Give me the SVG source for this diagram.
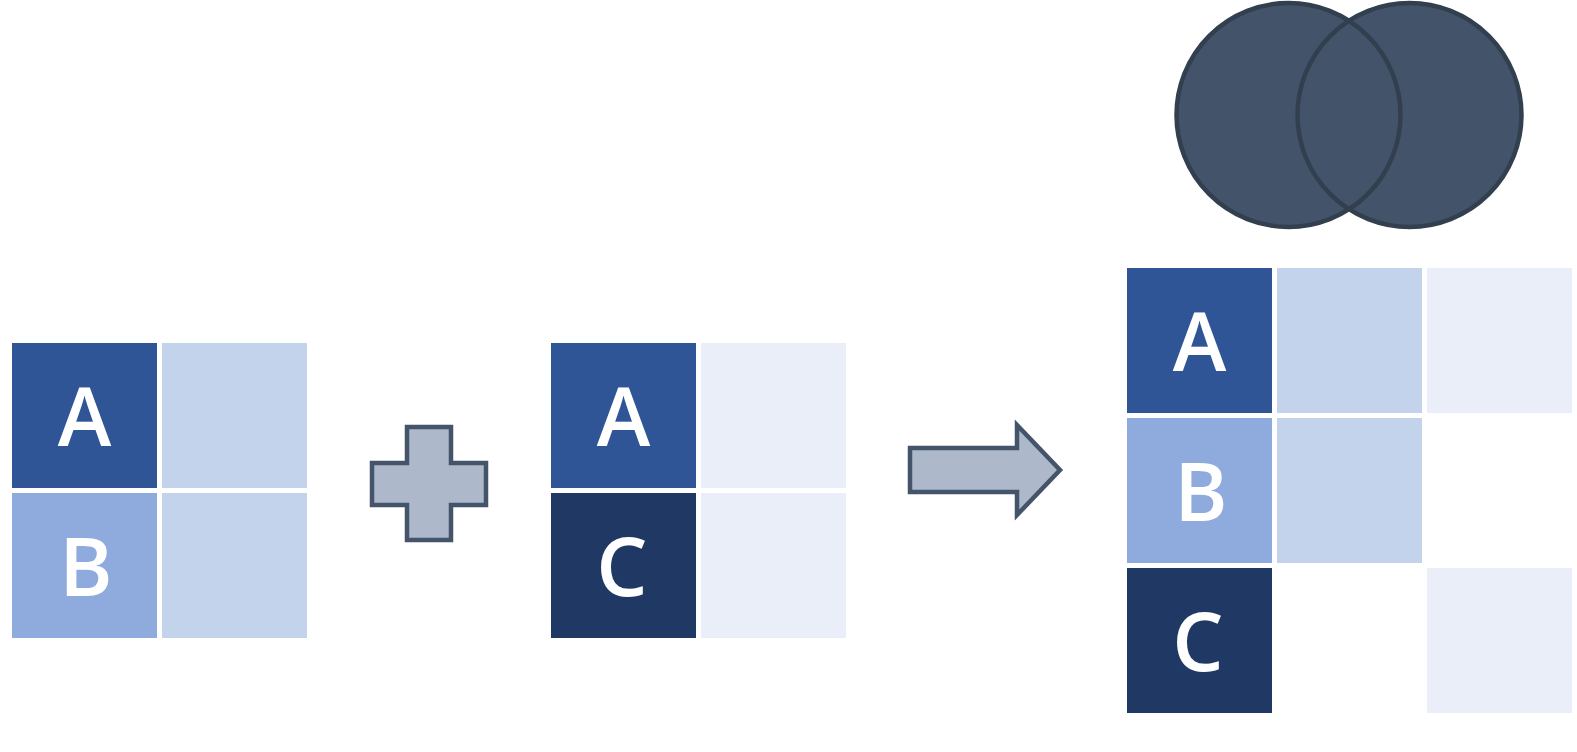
<svg xmlns="http://www.w3.org/2000/svg" width="1577" height="752" viewBox="0 0 1577 752">
<style>
.c1{fill:#2F5597}.c2{fill:#8FAADC}.c3{fill:#C3D3EC}.c4{fill:#E9EEF8}.c5{fill:#203864}
.lbl{font-family:"Open Sans","Liberation Sans",sans-serif;font-weight:600;font-size:81px;fill:#FFFFFF;text-anchor:middle}
.shape{fill:#ADB9CA;stroke:#44546A;stroke-width:4.5;stroke-linejoin:miter}
.vfill{fill:#435369;stroke:none}
.vline{fill:none;stroke:#323F4F;stroke-width:4.5}
</style>
<rect width="1577" height="752" fill="#FFFFFF"/>
<g id="table1">
<rect class="c1" x="12" y="343" width="145" height="145"/>
<text class="lbl" x="84.5" y="446">A</text>
<rect class="c3" x="162" y="343" width="145" height="145"/>
<rect class="c2" x="12" y="493" width="145" height="145"/>
<text class="lbl" x="86" y="596">B</text>
<rect class="c3" x="162" y="493" width="145" height="145"/>
</g>
<g id="plus">
<path class="shape" d="M407 427 H451 V463 H486 V505 H451 V540 H407 V505 H372 V463 H407 Z"/>
</g>
<g id="table2">
<rect class="c1" x="551" y="343" width="145" height="145"/>
<text class="lbl" x="623.5" y="446">A</text>
<rect class="c4" x="701" y="343" width="145" height="145"/>
<rect class="c5" x="551" y="493" width="145" height="145"/>
<text class="lbl" x="622" y="596">C</text>
<rect class="c4" x="701" y="493" width="145" height="145"/>
</g>
<g id="arrow">
<path class="shape" d="M910 448 H1017 V425 L1060 470 L1017 515 V492 H910 Z"/>
</g>
<g id="venn">
<circle class="vfill" cx="1288.5" cy="115" r="112"/>
<circle class="vfill" cx="1409.5" cy="115" r="112"/>
<circle class="vline" cx="1288.5" cy="115" r="112"/>
<circle class="vline" cx="1409.5" cy="115" r="112"/>
</g>
<g id="table3">
<rect class="c1" x="1127" y="268" width="145" height="145"/>
<text class="lbl" x="1199.5" y="371">A</text>
<rect class="c3" x="1277" y="268" width="145" height="145"/>
<rect class="c4" x="1427" y="268" width="145" height="145"/>
<rect class="c2" x="1127" y="418" width="145" height="145"/>
<text class="lbl" x="1201" y="521">B</text>
<rect class="c3" x="1277" y="418" width="145" height="145"/>
<rect class="c5" x="1127" y="568" width="145" height="145"/>
<text class="lbl" x="1198" y="671">C</text>
<rect class="c4" x="1427" y="568" width="145" height="145"/>
</g>
<g id="connectors"></g>
</svg>
